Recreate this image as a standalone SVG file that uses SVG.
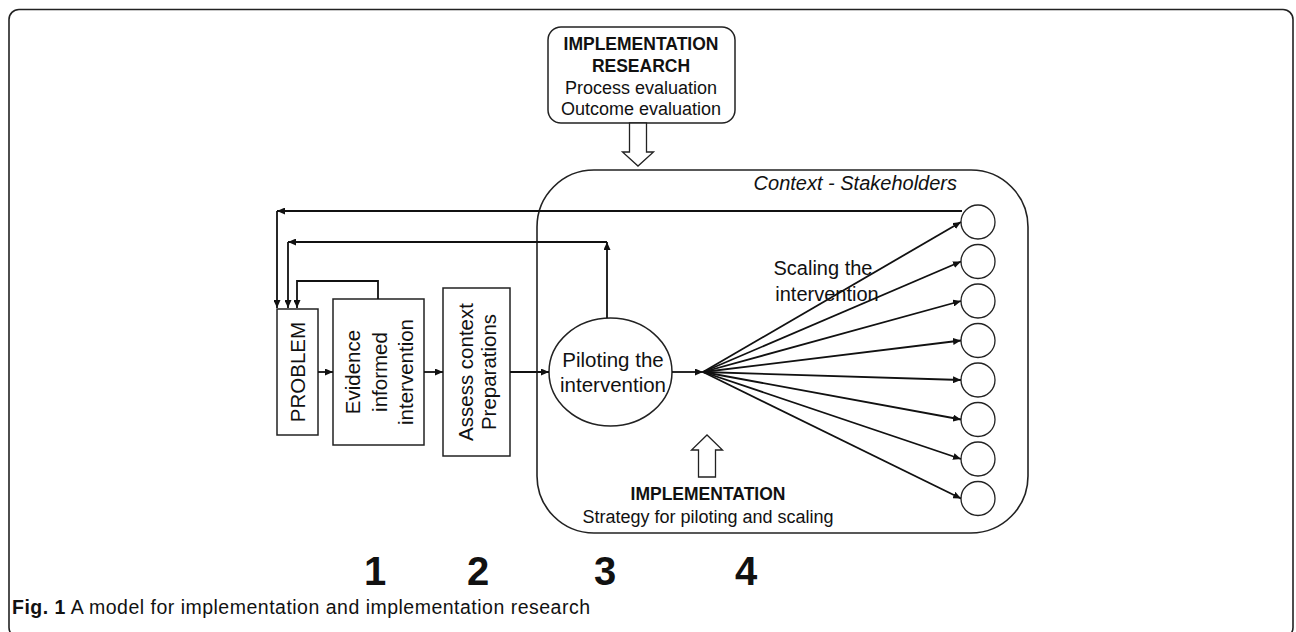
<svg xmlns="http://www.w3.org/2000/svg" width="1296" height="632" viewBox="0 0 1296 632">
<defs>
<marker id="ah" viewBox="0 0 8 7" refX="8" refY="3.5" markerWidth="8" markerHeight="7" orient="auto" markerUnits="userSpaceOnUse">
<path d="M0,0 L8,3.5 L0,7 z" fill="#111"/>
</marker>
<style>
.box{fill:#fff;stroke:#222;stroke-width:1.5}
.ln{fill:none;stroke:#111;stroke-width:1.8}
.arr{marker-end:url(#ah)}
.t{font-family:"Liberation Sans",Arial,sans-serif;fill:#111}
.st{fill:#fff;stroke:#222;stroke-width:1.3}
.hol{fill:#fff;stroke:#222;stroke-width:1.3}
.num{font-family:"Liberation Sans",Arial,sans-serif;font-weight:bold;font-size:40px;fill:#111}
</style>
</defs>
<rect x="9" y="9.5" width="1284" height="628" rx="10" fill="none" stroke="#222" stroke-width="1.6"/>

<g id="research">
<rect x="548" y="27" width="187" height="96" rx="13" class="box"/>
<text class="t" text-anchor="middle" font-size="17.5" font-weight="bold"><tspan x="641" y="50">IMPLEMENTATION</tspan><tspan x="641" y="72">RESEARCH</tspan></text>
<text class="t" text-anchor="middle" font-size="18"><tspan x="641" y="94">Process evaluation</tspan><tspan x="641" y="115">Outcome evaluation</tspan></text>
<polygon class="hol" points="629.5,123 646.5,123 646.5,152 653.5,152 638,166 622.5,152 629.5,152"/>
</g>

<g id="context">
<rect x="537" y="170" width="491" height="363" rx="57" fill="none" stroke="#222" stroke-width="1.6"/>
<text class="t" x="957" y="190" text-anchor="end" font-size="20" font-style="italic">Context - Stakeholders</text>
</g>

<g id="problem">
<rect x="277" y="309" width="41" height="126" class="box"/>
<text class="t" font-size="20.5" text-anchor="middle" transform="translate(305,372) rotate(-90)">PROBLEM</text>
</g>

<g id="evidence">
<rect x="333" y="299" width="91" height="146" class="box"/>
<text class="t" font-size="20.5" text-anchor="middle" transform="translate(360,372) rotate(-90)"><tspan x="0" y="0">Evidence</tspan><tspan x="0" y="26.5">informed</tspan><tspan x="0" y="52.5">intervention</tspan></text>
</g>

<g id="assess">
<rect x="443" y="288" width="67" height="168" class="box"/>
<text class="t" font-size="20.5" text-anchor="middle" transform="translate(473,372) rotate(-90)"><tspan x="0" y="0">Assess context</tspan><tspan x="0" y="22.5">Preparations</tspan></text>
</g>

<g id="piloting">
<ellipse cx="610.5" cy="372" rx="61.5" ry="54" class="box" stroke-width="1.7"/>
<text class="t" font-size="20.5" text-anchor="middle"><tspan x="613" y="367">Piloting the</tspan><tspan x="613" y="392">intervention</tspan></text>
</g>

<g id="scaling">
<text class="t" font-size="20" text-anchor="middle"><tspan x="823" y="275">Scaling the</tspan><tspan x="827" y="301">intervention</tspan></text>
</g>

<g id="stakeholders">
<circle cx="978" cy="222" r="17" class="st"/>
<circle cx="978" cy="261.5" r="17" class="st"/>
<circle cx="978" cy="301" r="17" class="st"/>
<circle cx="978" cy="340.5" r="17" class="st"/>
<circle cx="978" cy="380" r="17" class="st"/>
<circle cx="978" cy="419.5" r="17" class="st"/>
<circle cx="978" cy="459" r="17" class="st"/>
<circle cx="978" cy="498.5" r="17" class="st"/>
</g>

<g id="implementation">
<polygon class="hol" points="698.5,477 715.5,477 715.5,450 722.5,450 707,435 691.5,450 698.5,450"/>
<text class="t" x="708" y="500" text-anchor="middle" font-size="17.5" font-weight="bold">IMPLEMENTATION</text>
<text class="t" x="708" y="523" text-anchor="middle" font-size="18">Strategy for piloting and scaling</text>
</g>

<g id="connectors">
<path class="ln arr" d="M962,211 L277,211"/>
<path class="ln arr" d="M277,211 L277,308"/>
<path class="ln arr" d="M607,318 L607,242"/>
<path class="ln arr" d="M607,242 L288,242"/>
<path class="ln arr" d="M288,242 L288,308"/>
<path class="ln arr" d="M378,299 L378,281 L297,281 L297,308"/>
<path class="ln arr" d="M318,372 L333,372"/>
<path class="ln arr" d="M424,372 L443,372"/>
<path class="ln arr" d="M510,372 L549,372"/>
<path class="ln arr" d="M672,372 L703,372"/>
<path class="ln arr" d="M703,372 L961,222"/>
<path class="ln arr" d="M703,372 L961,261.5"/>
<path class="ln arr" d="M703,372 L961,301"/>
<path class="ln arr" d="M703,372 L961,340.5"/>
<path class="ln arr" d="M703,372 L961,380"/>
<path class="ln arr" d="M703,372 L961,419.5"/>
<path class="ln arr" d="M703,372 L961,459"/>
<path class="ln arr" d="M703,372 L961,498.5"/>
</g>

<g id="numbers">
<text class="num" x="375" y="585" text-anchor="middle">1</text>
<text class="num" x="478" y="585" text-anchor="middle">2</text>
<text class="num" x="605" y="585" text-anchor="middle">3</text>
<text class="num" x="746" y="585" text-anchor="middle">4</text>
</g>

<g id="caption">
<text class="t" x="12" y="614" font-size="19.5" textLength="578" lengthAdjust="spacing" fill="#231f20"><tspan font-weight="bold">Fig. 1</tspan> A model for implementation and implementation research</text>
</g>
</svg>
